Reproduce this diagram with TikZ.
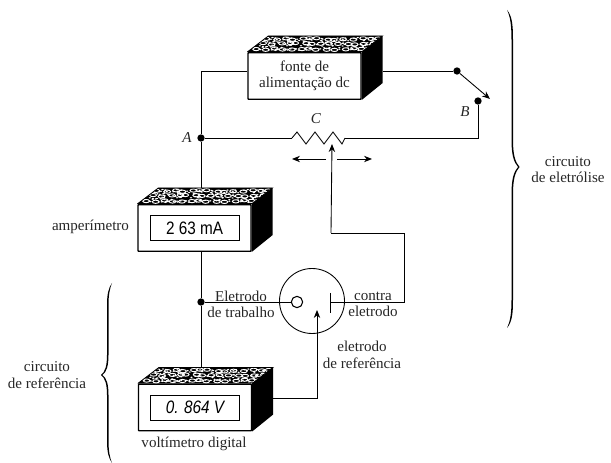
\documentclass[tikz,border=0pt]{standalone}
\usepackage{fontspec}
\setmainfont{Liberation Serif}
\newfontfamily\lcdfont[FakeStretch=0.85]{Liberation Sans}
\usetikzlibrary{arrows.meta}
\usetikzlibrary{calc}
\usetikzlibrary{positioning}

\tikzset{
  caixa/.style={draw, line width=1pt, rounded corners=0.5pt, fill=white, minimum width=84.75pt, minimum height=35pt, align=center, inner sep=0pt},
  visor/.style={draw, line width=0.4pt, minimum width=66.5pt, minimum height=18.5pt, inner sep=0pt, font=\lcdfont\fontsize{13.5}{13.5}\selectfont},
  fio/.style={line width=0.65pt},
  ponto/.style={circle, fill=black, inner sep=0pt, minimum size=5.5pt},
  rotulo/.style={font=\fontsize{11.3}{12.4}\selectfont, align=center, inner sep=0pt, text=black!85},
  seta/.style={line width=0.65pt, -{Stealth[length=6pt,width=4.8pt]}},
}

% topo pontilhado e lado preto da caixa
\newcommand{\topocaixa}[1]{
  \begin{scope}
    \clip (#1.north west) -- ++(21,-16) -- ++(114,0) -- (#1.north east) -- cycle;
    \fill (#1.north west) ++(0,-17) rectangle ++(136,18);
    \pgfmathsetseed{7}
    \foreach \col in {0,...,13}{
      \foreach \lin in {0,1,2}{
        \draw[white, line width=0.7pt] ($(#1.north west)+(8+\col*8.6+\lin*4.6+rnd*5,-2-\lin*5-rnd*2)$) ellipse (3.4 and 1.6);
      }
    }
    \foreach \i in {1,...,150}{
      \fill[white] ($(#1.north west)+(6+rnd*124,-1.5-rnd*13)$) ellipse (1.3 and 0.7);
    }
  \end{scope}
  \draw[line width=0.6pt] (#1.north west) -- ++(21,-16) -- ++(114,0) -- (#1.north east);
  \fill (#1.north east) -- ++(21,-16) -- ++(0,47) -- (#1.south east) -- cycle;
}

\begin{document}
\begin{tikzpicture}[x=0.75pt, y=-0.75pt]
  \useasboundingbox (0,0) rectangle (611,463);

  \node (fonte) [caixa, rotulo, draw] at (304.5,76) {fonte de\\alimentação dc};
  \node (amper) [caixa] at (194.5,228) {};
  \node (volt) [caixa] at (195,407.5) {};
  \topocaixa{fonte}
  \topocaixa{amper}
  \topocaixa{volt}
  \node (visorA) [visor] at (amper) {2 63 mA};
  \node (visorV) [visor, font=\lcdfont\itshape\fontsize{13.5}{13.5}\selectfont] at (volt) {0. 864 V};

  \coordinate (cantoF) at (201,71);
  \node (A) [ponto] at (201,138) {};
  \node (T) [ponto] at (201,302) {};
  \node (chave) [ponto] at (457,71) {};
  \node (B) [ponto] at (478,101) {};
  \coordinate (rIn) at (292,138);
  \coordinate (rOut) at (345,138);
  \coordinate (cursor) at (332,144);
  \coordinate (pontaChave) at (490,99);

  \node (celula) [circle, draw, line width=0.65pt, minimum size=48.75pt, inner sep=0pt] at (312,301) {};
  \node (trab) [circle, draw, line width=0.8pt, fill=white, minimum size=8.5pt, inner sep=0pt] at (297,302) {};
  \coordinate (placaC) at (330,302);
  \coordinate (placaS) at (330,293);
  \coordinate (placaI) at (330,313);
  \coordinate (pontaRef) at (317,310);

  \draw [fio] (fonte.west |- cantoF) -- (cantoF) -- (A) -- ($(amper.north -| A)+(0,-16)$);
  \draw [fio] (amper.south -| A) -- (T) -- ($(volt.north -| T)+(0,-16)$);
  \draw [fio] (T) -- (trab);
  \draw [fio] (A) -- (rIn);
  \draw [fio] (rIn) -- ++(5,-6) -- ++(9,12) -- ++(9,-12) -- ++(9,12) -- ++(9,-12) -- ++(9,12) -- (rOut);
  \draw [fio] (rOut) -- (B |- rOut) -- (B);
  \draw [fio] (383,71) -- (chave);
  \draw [seta] (chave) -- (pontaChave);
  \draw [seta] (331,233) -- (cursor);
  \draw [fio] (331,233) -- (404,233) -- (404,302) -- (placaC);
  \draw [fio] (placaS) -- (placaI);
  \draw [seta] (273,398) -- (317,398) -- (pontaRef);

  \draw [seta] (326,159) -- (292,159);
  \draw [seta] (337,159) -- (372,159);

  \node (lC) [rotulo] at (316,119) {\itshape C};
  \node (lA) [rotulo] at (187,138) {\itshape A};
  \node (lB) [rotulo] at (465,112) {\itshape B};
  \node (lAmper) [rotulo] at (90.5,227) {amperímetro};
  \node (lVolt) [rotulo] at (194,444) {voltímetro digital};
  \node (lTrab) [rotulo] at (241,304.5) {Eletrodo\\de trabalho};
  \node (lContra) [rotulo] at (373,304.5) {contra\\eletrodo};
  \node (lRef) [rotulo] at (362,355) {eletrodo\\de referência};
  \node (lEletr) [rotulo] at (568,169.5) {circuito\\de eletrólise};
  \node (lRefc) [rotulo] at (47,375) {circuito\\de referência};

  % chaves
  \fill (507,10) .. controls (512,16) and (513,24) .. (513,40) -- (513,140) .. controls (513,154) and (515,162) .. (519.5,167) .. controls (515,172) and (513,180) .. (513,194) -- (513,300) .. controls (513,314) and (512,322) .. (507,328)
    .. controls (510,322) and (511.5,314) .. (511.5,300) -- (511.5,194) .. controls (511.5,180) and (513.5,172) .. (518,167) .. controls (513.5,162) and (511.5,154) .. (511.5,140) -- (511.5,40) .. controls (511.5,24) and (510,16) .. cycle;
  \fill (112,283) .. controls (108.5,288) and (107,294) .. (107,305) -- (107,355) .. controls (107,366) and (105,372) .. (101,375) .. controls (105,378) and (107,384) .. (107,395) -- (107,440) .. controls (107,452) and (108.5,458) .. (112,463)
    .. controls (110,458) and (108.5,452) .. (108.5,440) -- (108.5,395) .. controls (108.5,384) and (106.5,378) .. (102.5,375) .. controls (106.5,372) and (108.5,366) .. (108.5,355) -- (108.5,305) .. controls (108.5,294) and (110,288) .. cycle;
\end{tikzpicture}
\end{document}
